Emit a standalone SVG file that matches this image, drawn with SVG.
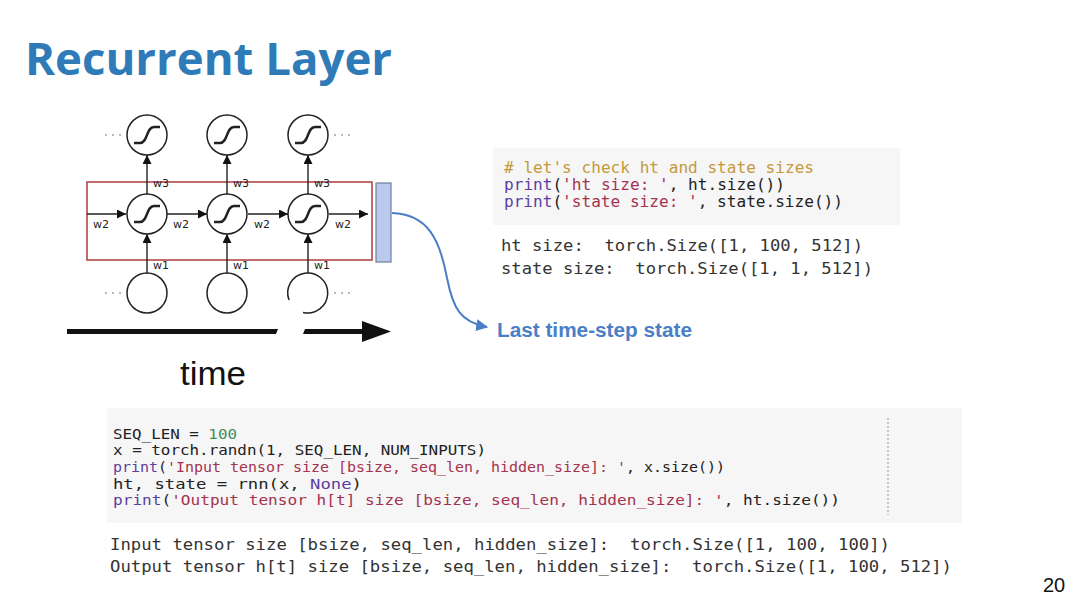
<svg xmlns="http://www.w3.org/2000/svg" width="1080" height="607" viewBox="0 0 1080 607" xml:space="preserve">
<style>
.cir{fill:#fff;stroke:#222;stroke-width:1.5}
.sig{fill:none;stroke:#222;stroke-width:2.4}
.ar{stroke:#222;stroke-width:1.4;fill:none}
.w{font-family:"DejaVu Sans",sans-serif;font-size:11px;fill:#222}
.dot{fill:#999}
.code{font-family:"DejaVu Sans Mono",monospace;font-size:15px;fill:#222;white-space:pre}
.code2{font-family:"DejaVu Sans Mono",monospace;font-size:14.5px;fill:#222;white-space:pre}
.out{font-family:"DejaVu Sans Mono",monospace;font-size:16.5px;fill:#333;white-space:pre}
.kw{fill:#5b3fa0}
.str{fill:#a3334f}
.cm{fill:#c49a3c}
.num{fill:#3f8c5a}
</style>
<defs>
<marker id="ah" viewBox="0 0 10 10" refX="10" refY="5" markerWidth="10" markerHeight="9" markerUnits="userSpaceOnUse" orient="auto">
<path d="M0,0 L10,5 L0,10 z" fill="#111"/>
</marker>
<marker id="bh" viewBox="0 0 10 10" refX="9" refY="5" markerWidth="12" markerHeight="12" markerUnits="userSpaceOnUse" orient="auto">
<path d="M0,0 L10,5 L0,10 z" fill="#4a7fc8"/>
</marker>
<path id="s" class="sig" d="M-13,8 L-7,8 C1,8 -1,-8 7,-8 L13,-8"/>
</defs>
<rect width="1080" height="607" fill="#fff"/>

<text id="title" x="25" y="75" font-family="'Open Sans',sans-serif" font-weight="700" font-size="45" fill="#2f7bb8" textLength="367" lengthAdjust="spacingAndGlyphs">Recurrent Layer</text>

<g id="rnn-box">
<rect x="87" y="182" width="285" height="78" fill="none" stroke="#b03a3a" stroke-width="1.5"/>
</g>
<g id="state-bar">
<rect x="376" y="183" width="15" height="79" fill="#b9caee" stroke="#6e7f99" stroke-width="1.2"/>
</g>

<g id="connectors">
<line class="ar" x1="87" y1="214" x2="126" y2="214" marker-end="url(#ah)"/>
<line class="ar" x1="167" y1="214" x2="207" y2="214" marker-end="url(#ah)"/>
<line class="ar" x1="248" y1="214" x2="288" y2="214" marker-end="url(#ah)"/>
<line class="ar" x1="329" y1="214" x2="368" y2="214" marker-end="url(#ah)"/>
<line class="ar" x1="147" y1="194" x2="147" y2="155" marker-end="url(#ah)"/>
<line class="ar" x1="227" y1="194" x2="227" y2="155" marker-end="url(#ah)"/>
<line class="ar" x1="308" y1="194" x2="308" y2="155" marker-end="url(#ah)"/>
<line class="ar" x1="147" y1="273" x2="147" y2="234" marker-end="url(#ah)"/>
<line class="ar" x1="227" y1="273" x2="227" y2="234" marker-end="url(#ah)"/>
<line class="ar" x1="308" y1="273" x2="308" y2="234" marker-end="url(#ah)"/>
<path d="M392,213 C428,214 440,240 447,278 C453,308 460,322 487,327" fill="none" stroke="#4a7fc8" stroke-width="2" marker-end="url(#bh)"/>
</g>

<g id="top-nodes">
<circle class="cir" cx="147" cy="135" r="20"/><use href="#s" x="147" y="135"/>
<circle class="cir" cx="227" cy="135" r="20"/><use href="#s" x="227" y="135"/>
<circle class="cir" cx="308" cy="135" r="20"/><use href="#s" x="308" y="135"/>
</g>
<g id="mid-nodes">
<circle class="cir" cx="147" cy="214" r="20"/><use href="#s" x="147" y="214"/>
<circle class="cir" cx="227" cy="214" r="20"/><use href="#s" x="227" y="214"/>
<circle class="cir" cx="308" cy="214" r="20"/><use href="#s" x="308" y="214"/>
</g>
<g id="bottom-nodes">
<circle class="cir" cx="147" cy="293" r="20"/>
<circle class="cir" cx="227" cy="293" r="20"/>
<path class="cir" fill="none" d="M303,312.4 A20,20 0 1 0 289,300"/>
</g>

<g id="dots">
<circle class="dot" cx="106" cy="135" r="0.9"/><circle class="dot" cx="113" cy="135" r="0.9"/><circle class="dot" cx="120" cy="135" r="0.9"/>
<circle class="dot" cx="335" cy="135" r="0.9"/><circle class="dot" cx="342" cy="135" r="0.9"/><circle class="dot" cx="349" cy="135" r="0.9"/>
<circle class="dot" cx="106" cy="293" r="0.9"/><circle class="dot" cx="113" cy="293" r="0.9"/><circle class="dot" cx="120" cy="293" r="0.9"/>
<circle class="dot" cx="335" cy="293" r="0.9"/><circle class="dot" cx="342" cy="293" r="0.9"/><circle class="dot" cx="349" cy="293" r="0.9"/>
</g>

<g id="weights">
<text class="w" x="153" y="187">w3</text><text class="w" x="233" y="187">w3</text><text class="w" x="314" y="187">w3</text>
<text class="w" x="93" y="228">w2</text><text class="w" x="173" y="228">w2</text><text class="w" x="254" y="228">w2</text><text class="w" x="335" y="228">w2</text>
<text class="w" x="153" y="269">w1</text><text class="w" x="233" y="269">w1</text><text class="w" x="314" y="269">w1</text>
</g>

<g id="time-axis">
<path d="M67,329 L278,329 L276,334 L67,334 z" fill="#111"/>
<path d="M305,329 L363,329 L363,334 L303,334 z" fill="#111"/>
<path d="M362,321 L391,331.5 L362,342 z" fill="#111"/>
<text x="180" y="385" font-family="'Liberation Sans',Arial,sans-serif" font-size="34" fill="#111" textLength="66" lengthAdjust="spacingAndGlyphs">time</text>
</g>

<g id="label-last">
<text x="497" y="337" font-family="'Liberation Sans',Arial,sans-serif" font-weight="700" font-size="20" fill="#4a7fc8" textLength="195" lengthAdjust="spacingAndGlyphs">Last time-step state</text>
</g>

<g id="code1">
<rect x="493" y="148" width="407" height="77" fill="#f6f6f6"/>
<text class="code" x="504" y="173" textLength="310" lengthAdjust="spacingAndGlyphs"><tspan class="cm"># let's check ht and state sizes</tspan></text>
<text class="code" x="504" y="190" textLength="281" lengthAdjust="spacingAndGlyphs"><tspan class="kw">print</tspan>(<tspan class="str">'ht size: '</tspan>, ht.size())</text>
<text class="code" x="504" y="207" textLength="339" lengthAdjust="spacingAndGlyphs"><tspan class="kw">print</tspan>(<tspan class="str">'state size: '</tspan>, state.size())</text>
<text class="out" x="501" y="251" textLength="362" lengthAdjust="spacingAndGlyphs">ht size:  torch.Size([1, 100, 512])</text>
<text class="out" x="501" y="274" textLength="372" lengthAdjust="spacingAndGlyphs">state size:  torch.Size([1, 1, 512])</text>
</g>

<g id="code2">
<rect x="107" y="408" width="855" height="115" fill="#f6f6f6"/>
<line x1="888" y1="418" x2="888" y2="515" stroke="#999" stroke-width="1" stroke-dasharray="2,2"/>
<text class="code2" x="113" y="439" textLength="124" lengthAdjust="spacingAndGlyphs">SEQ_LEN = <tspan class="num">100</tspan></text>
<text class="code2" x="113" y="455" textLength="373" lengthAdjust="spacingAndGlyphs">x = torch.randn(1, SEQ_LEN, NUM_INPUTS)</text>
<text class="code2" x="113" y="472" textLength="612" lengthAdjust="spacingAndGlyphs"><tspan class="kw">print</tspan>(<tspan class="str">'Input tensor size [bsize, seq_len, hidden_size]: '</tspan>, x.size())</text>
<text class="code2" x="113" y="489" textLength="249" lengthAdjust="spacingAndGlyphs">ht, state = rnn(x, <tspan class="kw">None</tspan>)</text>
<text class="code2" x="113" y="505" textLength="727" lengthAdjust="spacingAndGlyphs"><tspan class="kw">print</tspan>(<tspan class="str">'Output tensor h[t] size [bsize, seq_len, hidden_size]: '</tspan>, ht.size())</text>
<text class="out" x="110" y="550" textLength="780" lengthAdjust="spacingAndGlyphs">Input tensor size [bsize, seq_len, hidden_size]:  torch.Size([1, 100, 100])</text>
<text class="out" x="110" y="572" textLength="842" lengthAdjust="spacingAndGlyphs">Output tensor h[t] size [bsize, seq_len, hidden_size]:  torch.Size([1, 100, 512])</text>
</g>

<text id="page" x="1043" y="592" font-family="'Liberation Sans',Arial,sans-serif" font-size="20" fill="#111">20</text>
</svg>
